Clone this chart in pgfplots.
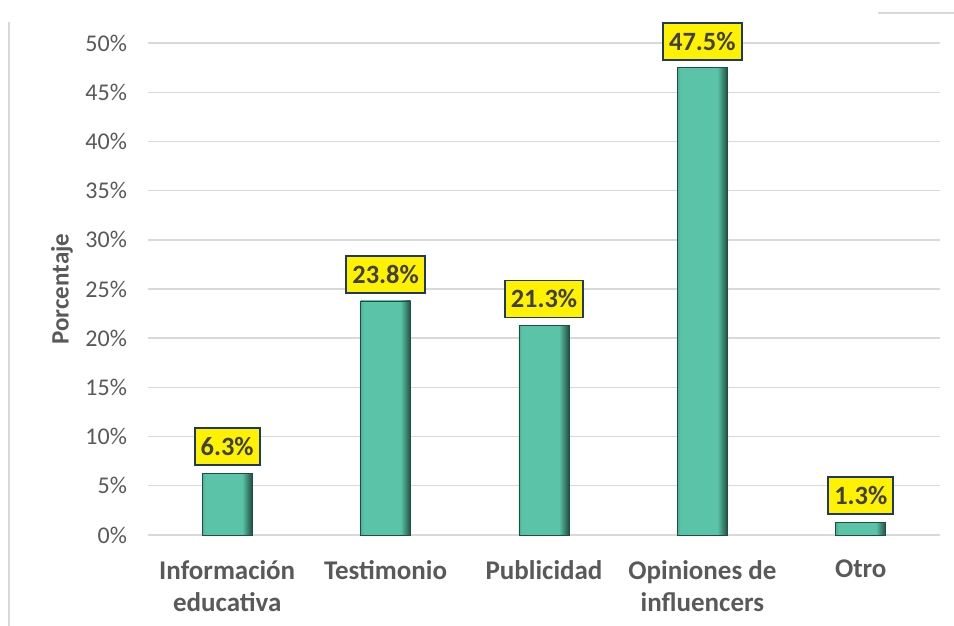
\documentclass[border=0pt]{standalone}
\usepackage{pgfplots}
\pgfplotsset{compat=1.18}
\usepackage{fontspec}
\setmainfont{Carlito}
\definecolor{txtgray}{HTML}{595959}
\definecolor{gridgray}{HTML}{D9D9D9}
\definecolor{barmid}{HTML}{5BC4A8}
\definecolor{barleft}{HTML}{4BAF94}
\definecolor{barright}{HTML}{1F4F43}
\definecolor{boxline}{HTML}{1F3864}
\definecolor{boxtxt}{HTML}{404040}
\pgfdeclarehorizontalshading{barshade}{100bp}{color(0bp)=(barleft); color(25bp)=(barleft); color(28bp)=(barmid); color(65bp)=(barmid); color(75bp)=(barright); color(100bp)=(barright)}
\tikzset{bevelbar/.style={draw=barright, line width=0.3pt, shade, shading=barshade}}
\begin{document}
\begin{tikzpicture}
\useasboundingbox (-74pt,-45.5pt) rectangle (403pt,267.5pt);
\draw[gridgray, line width=0.8pt] (-69.5pt,256.5pt) -- (-69.5pt,-45.5pt);
\draw[gridgray, line width=0.8pt] (365pt,261pt) -- (403pt,261pt);
\begin{axis}[
    at={(0,0)}, anchor=south west,
    scale only axis,
    width=396pt, height=246pt,
    ybar, bar width=25pt, bar shift=0pt,
    xmin=-0.5, xmax=4.5,
    ymin=0, ymax=50,
    clip=false,
    axis line style={draw=none},
    major tick length=0pt,
    xtick={0,1,2,3,4},
    xticklabels={{Información\\educativa},{Testimonio},{Publicidad},{Opiniones de\\influencers},{Otro}},
    xticklabel style={align=center, font=\fontsize{13.5}{16}\selectfont\bfseries, text=txtgray, anchor=north, yshift=-9pt},
    ytick={0,5,...,50},
    yticklabel={\pgfmathprintnumber{\tick}\%},
    yticklabel style={font=\fontsize{12}{14}\selectfont, text=txtgray, anchor=east, xshift=-7pt},
    /pgf/number format/assume math mode=true,
    ymajorgrids,
    grid style={gridgray, line width=0.7pt},
    ylabel={Porcentaje},
    every axis y label/.style={at={(axis description cs:0,0.5)}, xshift=-43pt, rotate=90, anchor=center, font=\fontsize{12.5}{14}\selectfont\bfseries, text=txtgray},
    nodes near coords={\pgfmathprintnumber[fixed,precision=1,fixed zerofill]{\pgfplotspointmeta}\%},
    every node near coord/.style={anchor=south, yshift=3.5pt, draw=boxline, line width=0.9pt, fill=yellow, text=boxtxt, font=\fontsize{13.2}{15}\selectfont\bfseries, inner xsep=3pt, inner ysep=0pt, minimum height=18.5pt, shade=false},
]
\addplot[bevelbar] coordinates {(0,6.3)};
\addplot[bevelbar] coordinates {(1,23.8)};
\addplot[bevelbar] coordinates {(2,21.3)};
\addplot[bevelbar] coordinates {(3,47.5)};
\addplot[bevelbar] coordinates {(4,1.3)};
\end{axis}
\end{tikzpicture}
\end{document}
